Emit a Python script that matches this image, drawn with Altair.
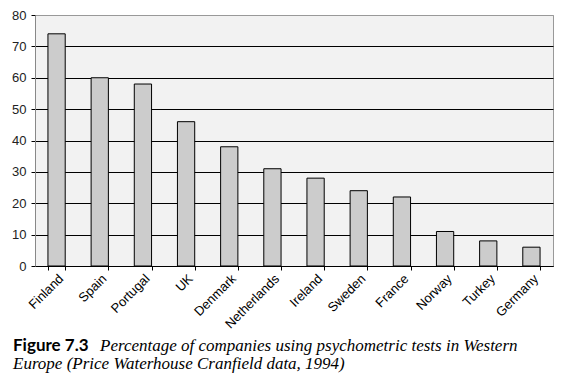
import altair as alt
import pandas as pd

countries = ["Finland", "Spain", "Portugal", "UK", "Denmark", "Netherlands",
             "Ireland", "Sweden", "France", "Norway", "Turkey", "Germany"]
values = [74, 60, 58, 46, 38, 31, 28, 24, 22, 11, 8, 6]
y_ticks = [0, 10, 20, 30, 40, 50, 60, 70, 80]

df = pd.DataFrame({"country": countries, "value": values})

bars = alt.Chart(df).mark_bar(fill="#cccccc", stroke="black", strokeWidth=1).encode(
    x=alt.X("country:N", sort=countries, title=None,
            scale=alt.Scale(paddingInner=0.6, paddingOuter=0.3),
            axis=alt.Axis(labelAngle=-45, labelFont="Liberation Sans", labelFontSize=13,
                          labelColor="black", domainColor="black", tickColor="black",
                          tickBand="extent", tickSize=4, labelPadding=2, grid=False)),
    y=alt.Y("value:Q", title=None,
            scale=alt.Scale(domain=[0, 80], nice=False),
            axis=alt.Axis(values=y_ticks, labelFont="Liberation Sans", labelFontSize=13,
                          labelColor="#222", domainColor="#888", tickColor="black",
                          tickSize=4, labelPadding=5,
                          gridColor=alt.condition("datum.value == 80", alt.value("#999"), alt.value("black")),
                          gridWidth=1)),
)

cap1a = alt.Chart(pd.DataFrame({"t": ["Figure 7.3"]})).mark_text(
    font="Lato", fontWeight="bold", fontSize=17, align="left", baseline="alphabetic",
    color="black").encode(x=alt.value(-22), y=alt.value(336), text="t:N")
cap1b = alt.Chart(pd.DataFrame({"t": ["Percentage of companies using psychometric tests in Western"]})).mark_text(
    font="Liberation Serif", fontStyle="italic", fontSize=17, align="left", baseline="alphabetic",
    color="black").encode(x=alt.value(65), y=alt.value(336), text="t:N")
cap2 = alt.Chart(pd.DataFrame({"t": ["Europe (Price Waterhouse Cranfield data, 1994)"]})).mark_text(
    font="Liberation Serif", fontStyle="italic", fontSize=17, align="left", baseline="alphabetic",
    color="black").encode(x=alt.value(-22), y=alt.value(354), text="t:N")

chart = alt.layer(bars, cap1a, cap1b, cap2).properties(
    width=518, height=251,
    autosize=alt.AutoSizeParams(type="none"),
    padding={"left": 35, "top": 15, "right": 9, "bottom": 110},
    background="white",
).configure_view(fill="#f2f2f2", stroke="#999", strokeWidth=1)

chart.save("out.html", embed_options={"renderer": "svg", "actions": False})
